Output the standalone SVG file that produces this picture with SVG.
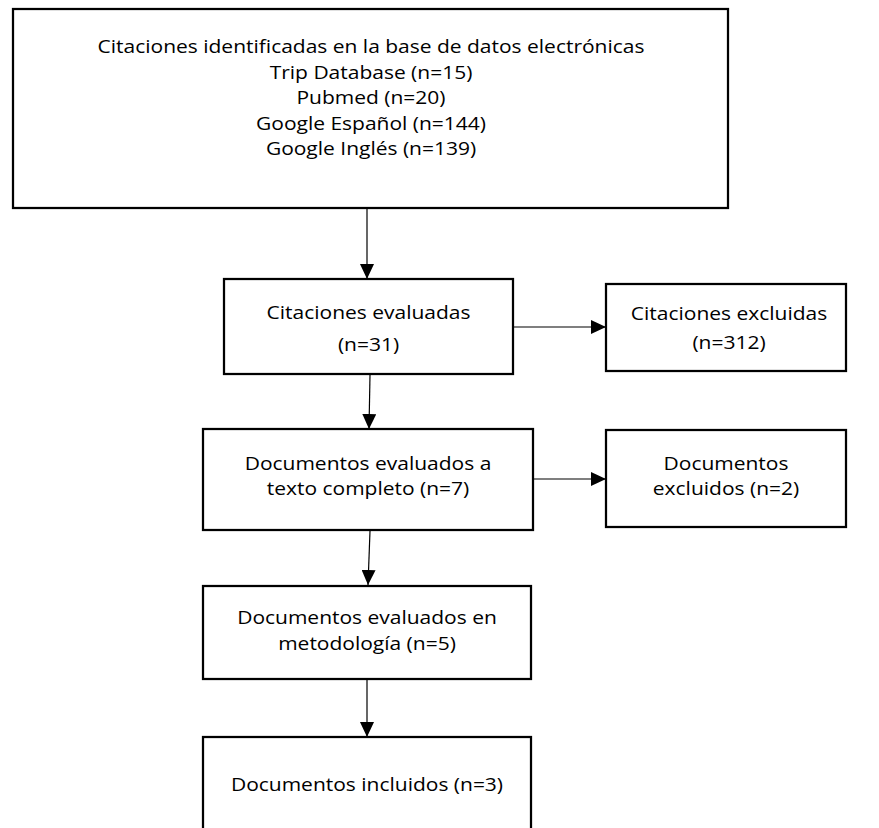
<svg xmlns="http://www.w3.org/2000/svg" width="879" height="828" viewBox="0 0 879 828">
  <style>
    .box { fill: #ffffff; stroke: #000000; stroke-width: 2.25; }
    .lbl { font-family: "Open Sans", "Noto Sans", "Liberation Sans", sans-serif; font-size: 18.5px; fill: #000000; text-anchor: middle; }
    .edge { stroke: #000000; stroke-width: 1.2; fill: none; marker-end: url(#arrow); }
  </style>
  <defs>
    <marker id="arrow" markerUnits="userSpaceOnUse" markerWidth="15" markerHeight="14" refX="15" refY="7" orient="auto">
      <path d="M0,0 L15,7 L0,14 Z" fill="#000000"/>
    </marker>
  </defs>
  <rect width="879" height="828" fill="#ffffff"/>

  <g id="connectors">
    <line class="edge" x1="367" y1="209" x2="367" y2="279"/>
    <line class="edge" x1="513" y1="327" x2="606" y2="327"/>
    <line class="edge" x1="370" y1="375" x2="369" y2="429"/>
    <line class="edge" x1="533" y1="479" x2="606" y2="479"/>
    <line class="edge" x1="370" y1="531" x2="368" y2="585"/>
    <line class="edge" x1="367" y1="680" x2="367" y2="737"/>
  </g>

  <g id="n-identificadas">
    <rect class="box" x="13" y="9" width="715" height="199"/>
    <text class="lbl" transform="translate(371,53) scale(1.135,1)">Citaciones identificadas en la base de datos electrónicas</text>
    <text class="lbl" transform="translate(371,78.5) scale(1.135,1)">Trip Database (n=15)</text>
    <text class="lbl" transform="translate(371,104) scale(1.135,1)">Pubmed (n=20)</text>
    <text class="lbl" transform="translate(371,129.5) scale(1.135,1)">Google Español (n=144)</text>
    <text class="lbl" transform="translate(371,155) scale(1.135,1)">Google Inglés (n=139)</text>
  </g>

  <g id="n-cit-evaluadas">
    <rect class="box" x="224" y="279" width="289" height="95"/>
    <text class="lbl" transform="translate(368.5,318.5) scale(1.135,1)">Citaciones evaluadas</text>
    <text class="lbl" transform="translate(368.5,351) scale(1.135,1)">(n=31)</text>
  </g>

  <g id="n-cit-excluidas">
    <rect class="box" x="606" y="284" width="240" height="87"/>
    <text class="lbl" transform="translate(729,320) scale(1.135,1)">Citaciones excluidas</text>
    <text class="lbl" transform="translate(729,349) scale(1.135,1)">(n=312)</text>
  </g>

  <g id="n-doc-texto">
    <rect class="box" x="203" y="429" width="330" height="101"/>
    <text class="lbl" transform="translate(368,470) scale(1.135,1)">Documentos evaluados a</text>
    <text class="lbl" transform="translate(368,495) scale(1.135,1)">texto completo (n=7)</text>
  </g>

  <g id="n-doc-excluidos">
    <rect class="box" x="606" y="430" width="240" height="97"/>
    <text class="lbl" transform="translate(726,470) scale(1.135,1)">Documentos</text>
    <text class="lbl" transform="translate(726,495) scale(1.135,1)">excluidos (n=2)</text>
  </g>

  <g id="n-doc-metodologia">
    <rect class="box" x="203" y="586" width="328" height="93"/>
    <text class="lbl" transform="translate(367,623.5) scale(1.135,1)">Documentos evaluados en</text>
    <text class="lbl" transform="translate(367,649.5) scale(1.135,1)">metodología (n=5)</text>
  </g>

  <g id="n-doc-incluidos">
    <rect class="box" x="203" y="737" width="328" height="120"/>
    <text class="lbl" transform="translate(367,791) scale(1.135,1)">Documentos incluidos (n=3)</text>
  </g>
</svg>
